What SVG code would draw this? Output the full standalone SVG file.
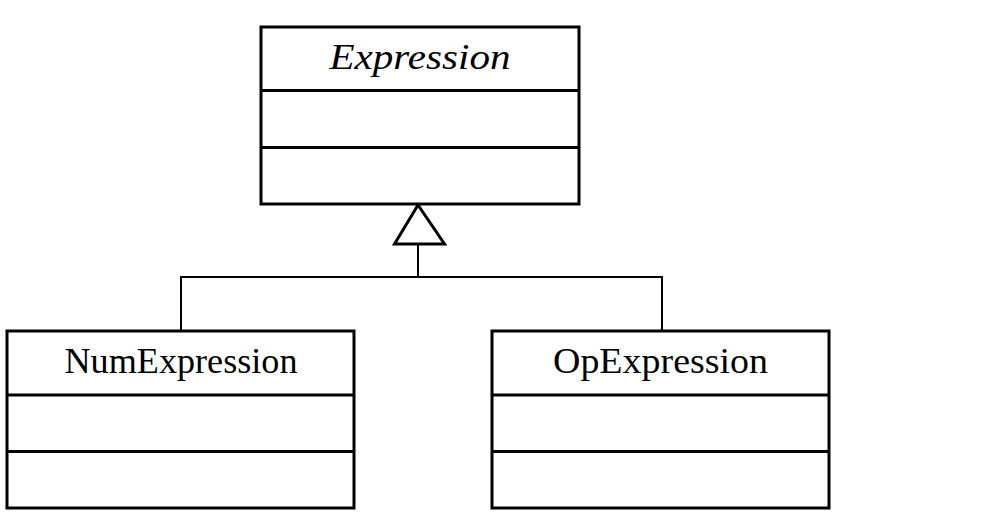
<svg xmlns="http://www.w3.org/2000/svg" width="999" height="517" viewBox="0 0 999 517">
<style>
.box{fill:#fff;stroke:#000;stroke-width:3}
.div{stroke:#000;stroke-width:3}
.lbl{font-family:"Liberation Serif","DejaVu Serif",serif;font-size:36px;fill:#000;text-anchor:middle}
.conn{fill:none;stroke:#000;stroke-width:2}
</style>
<rect width="999" height="517" fill="#fff"/>
<g id="connectors">
<polyline class="conn" points="181,331 181,277 662,277 662,331"/>
<line class="conn" x1="418" y1="277" x2="418" y2="244"/>
<polygon points="418,205 394.5,244 444.5,244" fill="#fff" stroke="#000" stroke-width="3" stroke-linejoin="miter"/>
</g>
<g id="Expression">
<rect class="box" x="261" y="27" width="318" height="177"/>
<line class="div" x1="261" y1="90.5" x2="579" y2="90.5"/>
<line class="div" x1="261" y1="147.5" x2="579" y2="147.5"/>
<text class="lbl" x="420" y="69" font-style="italic" textLength="181" lengthAdjust="spacingAndGlyphs">Expression</text>
</g>
<g id="NumExpression">
<rect class="box" x="7" y="331" width="347" height="177"/>
<line class="div" x1="7" y1="395" x2="354" y2="395"/>
<line class="div" x1="7" y1="451.5" x2="354" y2="451.5"/>
<text class="lbl" x="181" y="373" textLength="233" lengthAdjust="spacingAndGlyphs">NumExpression</text>
</g>
<g id="OpExpression">
<rect class="box" x="492" y="331" width="337" height="177"/>
<line class="div" x1="492" y1="395" x2="829" y2="395"/>
<line class="div" x1="492" y1="451.5" x2="829" y2="451.5"/>
<text class="lbl" x="660.5" y="373" textLength="215" lengthAdjust="spacingAndGlyphs">OpExpression</text>
</g>
</svg>
